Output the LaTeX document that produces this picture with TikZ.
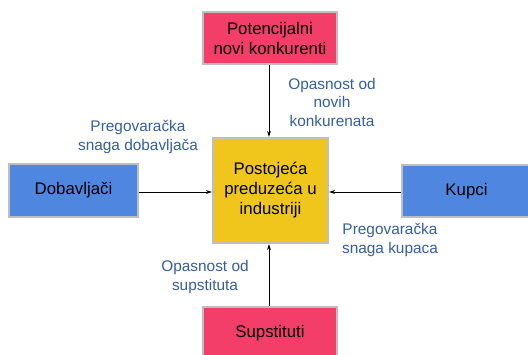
\documentclass[tikz,border=0pt]{standalone}
\usepackage{fontspec}
\setmainfont{Liberation Sans}
\usetikzlibrary{arrows.meta}
\definecolor{pinkbox}{RGB}{243,62,106}
\definecolor{bluebox}{RGB}{78,134,224}
\definecolor{yellowbox}{RGB}{240,197,28}
\definecolor{bordergray}{RGB}{190,190,190}
\definecolor{labelblue}{RGB}{52,94,160}
\tikzset{
  box/.style={draw=bordergray, line width=2.2pt, inner sep=0pt, align=center,
    font=\fontsize{16.8}{20}\selectfont, text=black},
  lbl/.style={align=center, text=labelblue, font=\fontsize{15.4}{18.5}\selectfont, inner sep=0pt},
  conn/.style={-{Stealth[length=6pt,width=4pt]}, line width=0.8pt, black}
}
\begin{document}
\begin{tikzpicture}[x=1pt,y=-1pt]
\useasboundingbox (0,0) rectangle (528,355);
\node[box, fill=pinkbox, minimum width=134pt, minimum height=52pt] (top) at (270,38) {Potencijalni\\novi konkurenti};
\node[box, fill=yellowbox, minimum width=115pt, minimum height=105pt] (mid) at (270.5,190.5) {Postojeća\\preduzeća u\\industriji};
\node[box, fill=bluebox, minimum width=129pt, minimum height=53pt] (left) at (73.5,190.5) {Dobavljači};
\node[box, fill=bluebox, minimum width=129pt, minimum height=52pt] (right) at (466.5,191) {Kupci};
\node[box, fill=pinkbox, minimum width=134pt, minimum height=52pt] (bot) at (270,333) {Supstituti};
\draw[conn] (top.south -| 269,0) -- (mid.north -| 269,0);
\draw[conn] (bot.north -| 269,0) -- (mid.south -| 269,0);
\draw[conn] (left.east |- 0,192) -- (mid.west |- 0,192);
\draw[conn] (right.west |- 0,192) -- (mid.east |- 0,192);
\node[lbl] (l1) at (332,102) {Opasnost od\\novih\\konkurenata};
\node[lbl] (l2) at (138,137) {Pregovaračka\\snaga dobavljača};
\node[lbl] (l3) at (390,240) {Pregovaračka\\snaga kupaca};
\node[lbl] (l4) at (205,277) {Opasnost od\\supstituta};
\end{tikzpicture}
\end{document}
